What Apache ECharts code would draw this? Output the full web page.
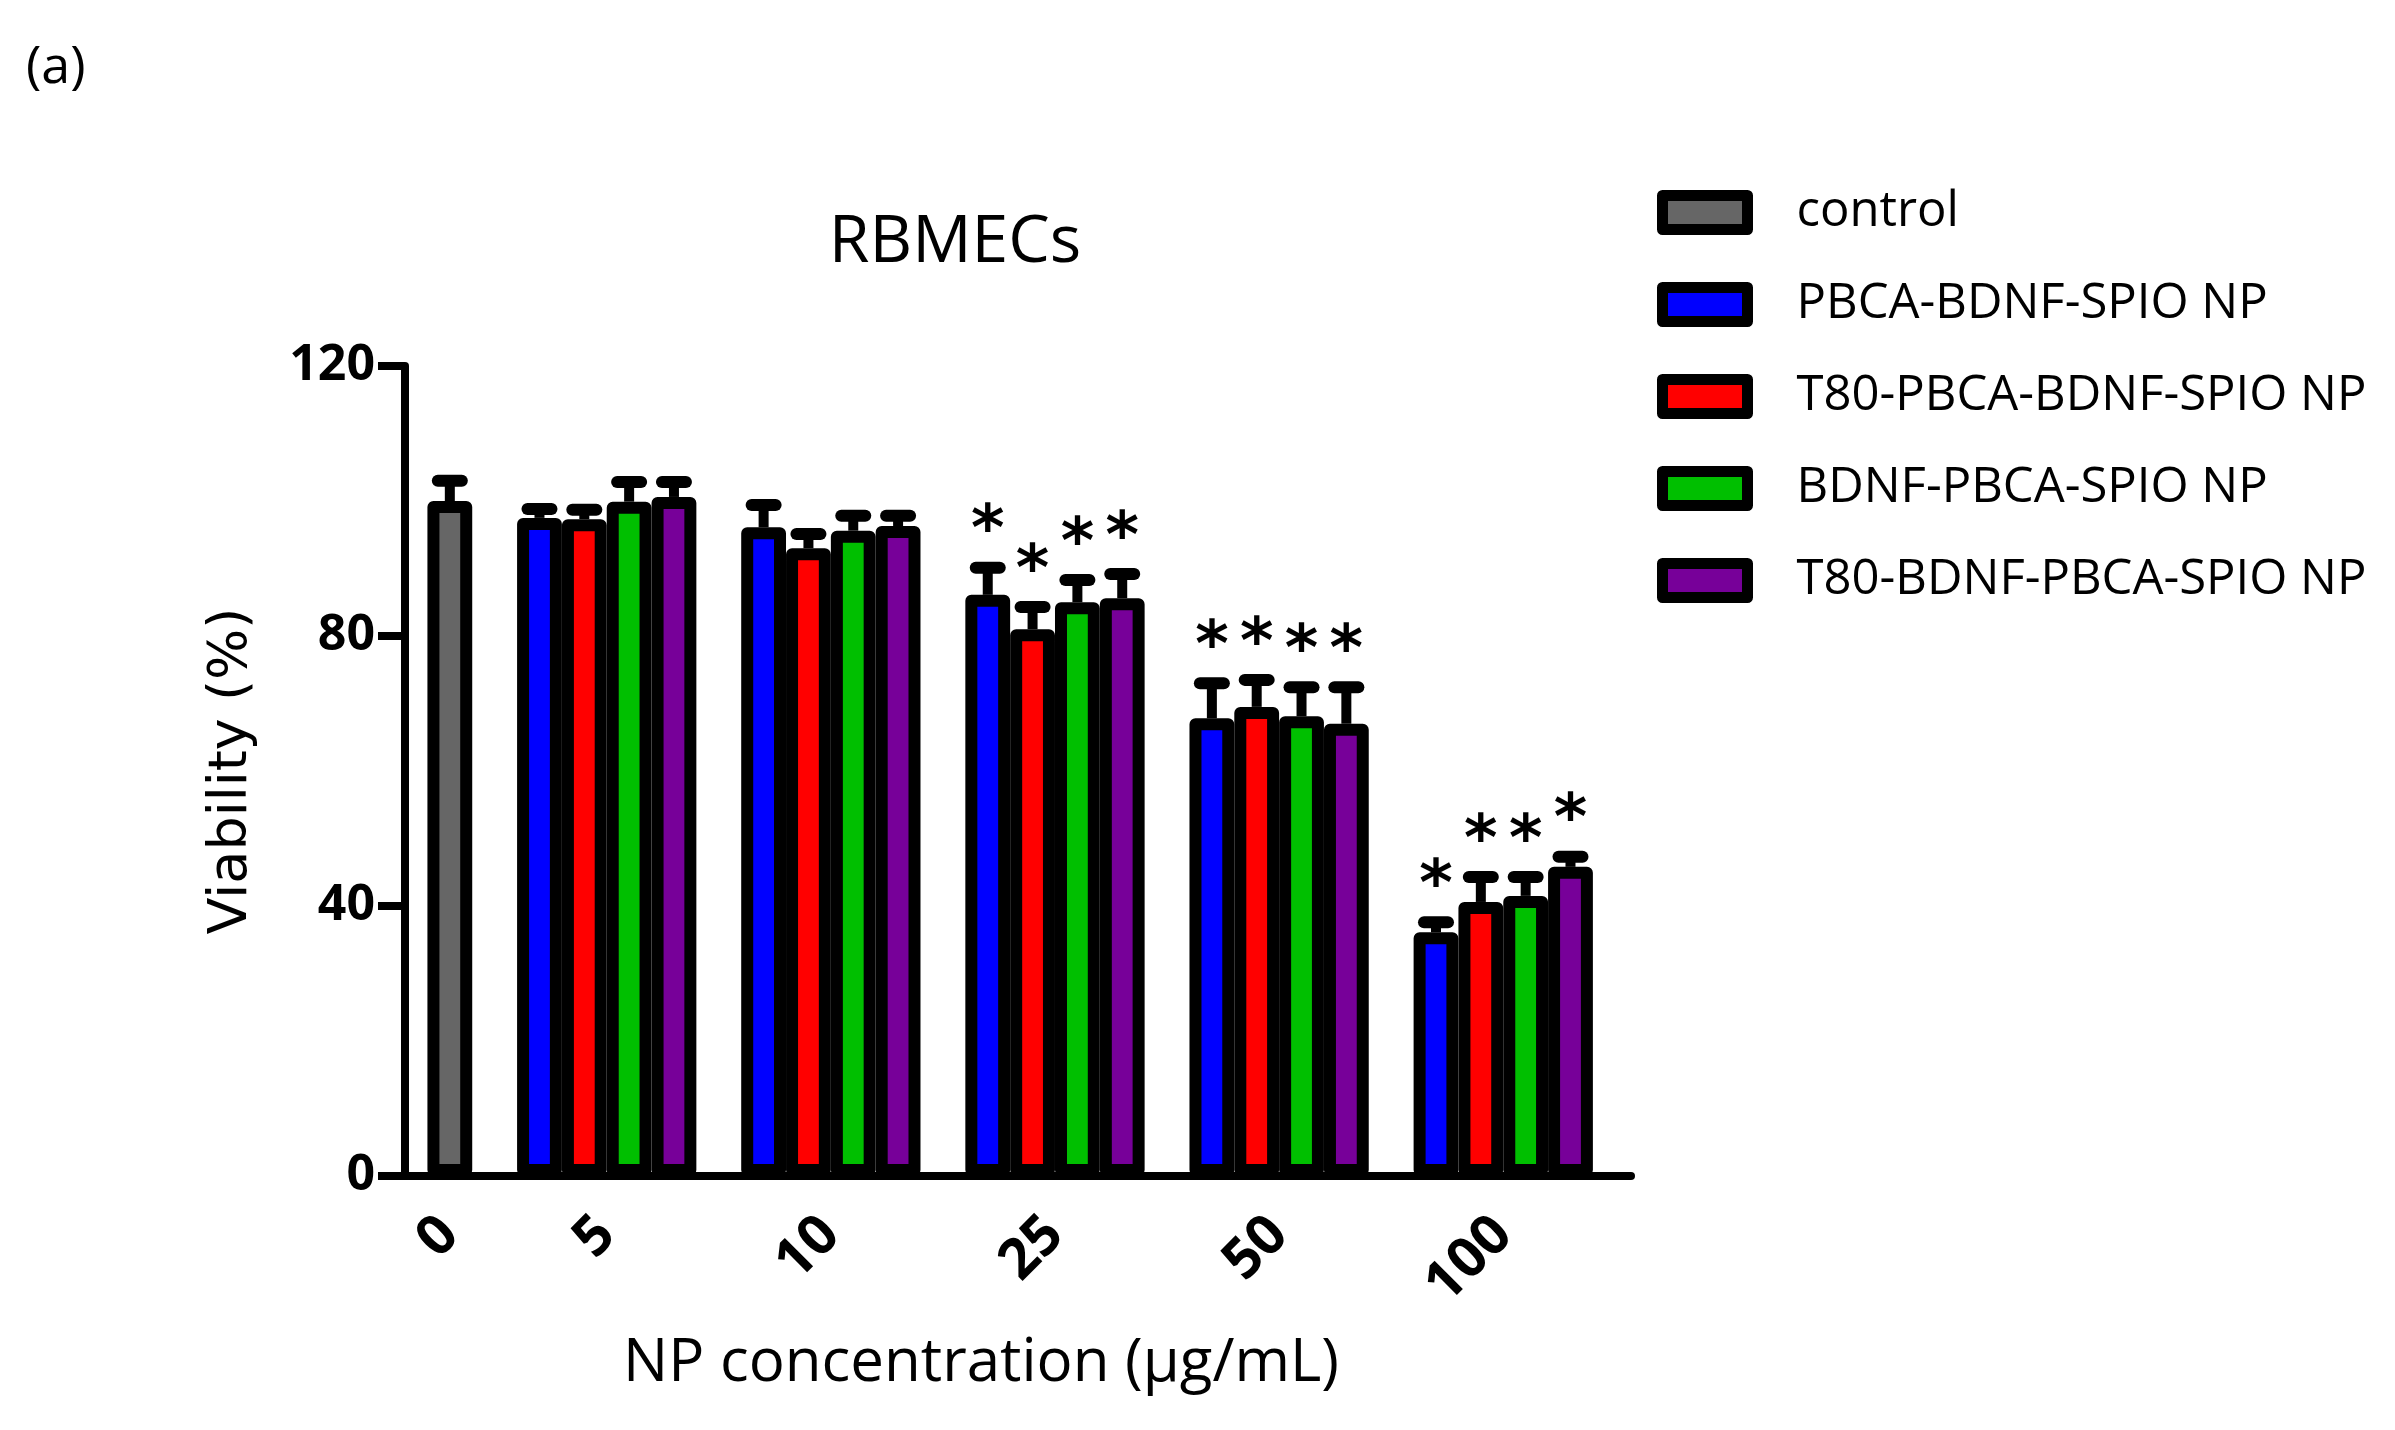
<!DOCTYPE html>
<html>
<head>
<meta charset="utf-8">
<script src="https://cdn.jsdelivr.net/npm/echarts@6/dist/echarts.min.js"></script>
<style>
html,body{margin:0;padding:0;background:#fff;}
#chart{width:2395px;height:1430px;}
</style>
</head>
<body>
<div id="chart"></div>
<script>
// ---- data ----
const categories = ['0', '5', '10', '25', '50', '100'];
const seriesNames = ['control', 'PBCA-BDNF-SPIO NP', 'T80-PBCA-BDNF-SPIO NP', 'BDNF-PBCA-SPIO NP', 'T80-BDNF-PBCA-SPIO NP'];
const seriesColors = ['#666666', '#0000ff', '#ff0000', '#00bf00', '#770099'];

const controlMean = [100.0];
const controlErr = [3.0];

const pbcaMean  = [97.5, 96.1, 86.1, 67.8, 36.1];
const pbcaErr   = [1.3, 3.3, 4.0, 5.2, 1.5];
const pbcaSig   = [0, 0, 1, 1, 1];

const t80pbcaMean = [97.3, 93.0, 81.0, 69.5, 40.6];
const t80pbcaErr  = [1.4, 2.1, 3.3, 4.0, 3.7];
const t80pbcaSig  = [0, 0, 1, 1, 1];

const bdnfMean = [99.9, 95.6, 85.0, 68.1, 41.5];
const bdnfErr  = [2.9, 2.2, 3.3, 4.3, 2.8];
const bdnfSig  = [0, 0, 1, 1, 1];

const t80bdnfMean = [100.6, 96.3, 85.6, 67.0, 45.8];
const t80bdnfErr  = [2.2, 1.5, 3.6, 5.4, 1.5];
const t80bdnfSig  = [0, 0, 1, 1, 1];

const yTicks = [0, 40, 80, 120];

// ---- layout in bar slots (one bar = one slot, one empty slot between groups) ----
function slotOf(groupIdx, barIdx) {
  if (groupIdx === 0) return 0;
  return 2 + (groupIdx - 1) * 5 + barIdx;
}
function groupCenter(groupIdx) {
  if (groupIdx === 0) return 0;
  return 2 + (groupIdx - 1) * 5 + 1.5;
}
const labelValues = categories.map((c, i) => groupCenter(i));

const treated = [
  {mean: pbcaMean, err: pbcaErr, sig: pbcaSig},
  {mean: t80pbcaMean, err: t80pbcaErr, sig: t80pbcaSig},
  {mean: bdnfMean, err: bdnfErr, sig: bdnfSig},
  {mean: t80bdnfMean, err: t80bdnfErr, sig: t80bdnfSig}
];

const FONT = '"Open Sans", "Noto Sans", sans-serif';
const BAR_W = 44.8;

const barSeries = [];
const errData = [];
barSeries.push({
  name: seriesNames[0], type: 'bar', barWidth: BAR_W, barGap: '-100%',
  itemStyle: {color: seriesColors[0], borderColor: '#000', borderWidth: 12, borderJoin: 'round'},
  data: controlMean.map((v) => [slotOf(0, 0), v]), z: 2
});
errData.push([slotOf(0, 0), controlMean[0], controlErr[0], 0]);

treated.forEach((s, si) => {
  barSeries.push({
    name: seriesNames[si + 1], type: 'bar', barWidth: BAR_W, barGap: '-100%',
    itemStyle: {color: seriesColors[si + 1], borderColor: '#000', borderWidth: 12, borderJoin: 'round'},
    data: s.mean.map((v, gi) => [slotOf(gi + 1, si), v]), z: 2
  });
  s.mean.forEach((v, gi) => {
    errData.push([slotOf(gi + 1, si), v, s.err[gi], s.sig[gi]]);
  });
});

const errSeries = {
  type: 'custom', name: 'err', z: 3, silent: true,
  data: errData,
  encode: {x: 0, y: 1},
  renderItem: function (params, api) {
    const x = api.value(0), m = api.value(1), e = api.value(2), sig = api.value(3);
    const p0 = api.coord([x, m]);
    const p1 = api.coord([x, m + e]);
    const children = [
      {type: 'line', shape: {x1: p0[0], y1: p0[1], x2: p1[0], y2: p1[1]},
       style: {stroke: '#000', lineWidth: 10}},
      {type: 'line', shape: {x1: p1[0] - 12, y1: p1[1], x2: p1[0] + 12, y2: p1[1]},
       style: {stroke: '#000', lineWidth: 12, lineCap: 'round'}}
    ];
    if (sig) {
      children.push({type: 'text', x: p1[0], y: p1[1] - 34,
        style: {text: '*', fill: '#000', font: 'bold 64px "DejaVu Sans", sans-serif', textAlign: 'center', textVerticalAlign: 'middle'}});
    }
    return {type: 'group', children: children};
  }
};

const chart = echarts.init(document.getElementById('chart'), null, {renderer: 'canvas'});
chart.setOption({
  backgroundColor: '#fff',
  animation: false,
  title: [
    {text: '(a)', left: 26, top: 42, padding: 0, textStyle: {fontFamily: FONT, fontSize: 52, fontWeight: 'normal', color: '#000'}},
    {text: 'RBMECs', left: 955, top: 210, padding: 0, textAlign: 'center', textStyle: {fontFamily: FONT, fontSize: 66, fontWeight: 'normal', color: '#000'}}
  ],
  legend: {
    orient: 'vertical', left: 1657, top: 188, padding: 0,
    icon: 'rect', itemWidth: 85, itemHeight: 34, itemGap: 43,
    data: seriesNames,
    itemStyle: {borderColor: '#000', borderWidth: 11, borderJoin: 'round'},
    textStyle: {fontFamily: FONT, fontSize: 49, lineHeight: 49, color: '#000', padding: [0, 0, 0, 44]}
  },
  grid: {left: 405, top: 366, width: 1226, height: 810, containLabel: false},
  xAxis: {
    type: 'value', min: -1, max: 26.35,
    splitLine: {show: false},
    axisTick: {show: false},
    axisLine: {onZero: false, lineStyle: {color: '#000', width: 8}},
    axisLabel: {
      customValues: labelValues,
      formatter: function (v) { const i = labelValues.indexOf(v); return i >= 0 ? categories[i] : ''; },
      rotate: 45, margin: 50,
      fontFamily: FONT, fontSize: 56, fontWeight: 'bold', color: '#000'
    },
    name: 'NP concentration (μg/mL)', nameLocation: 'middle', nameGap: 158,
    nameTextStyle: {fontFamily: FONT, fontSize: 60, color: '#000', padding: [0, 74, 0, 0]}
  },
  yAxis: {
    type: 'value', min: 0, max: 120, interval: 40,
    splitLine: {show: false},
    axisLine: {onZero: false, lineStyle: {color: '#000', width: 8}},
    axisTick: {show: true, length: 27, lineStyle: {color: '#000', width: 8}},
    axisLabel: {
      formatter: function (v) { return yTicks.indexOf(v) >= 0 ? String(v) : ''; },
      margin: 30, fontFamily: FONT, fontSize: 50, fontWeight: 'bold', color: '#000'
    },
    name: 'Viability (%)', nameLocation: 'middle', nameGap: 146, nameRotate: 90,
    nameTextStyle: {fontFamily: '"DejaVu Sans", sans-serif', fontSize: 54, color: '#000'}
  },
  series: barSeries.concat([errSeries])
});
</script>
</body>
</html>
